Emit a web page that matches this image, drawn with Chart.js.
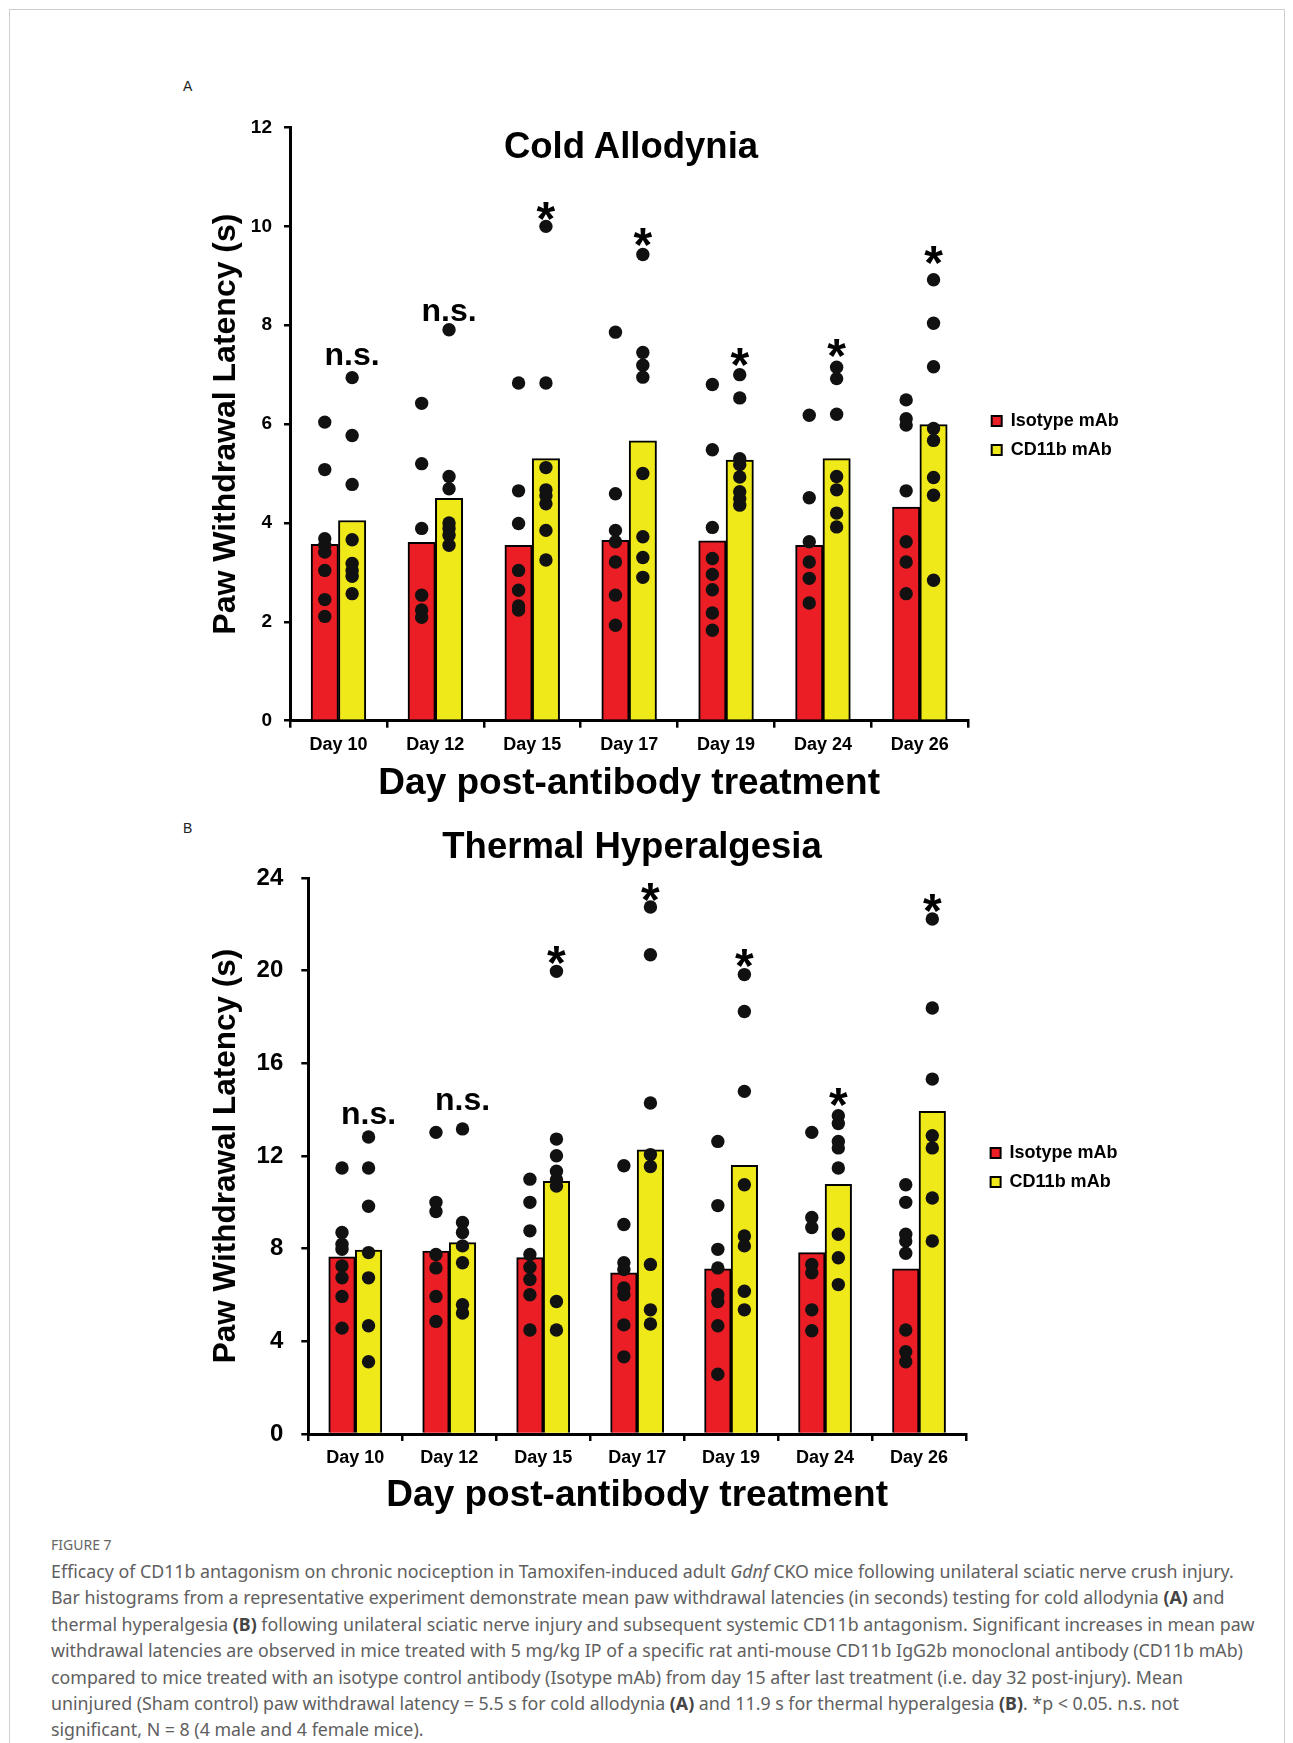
<!DOCTYPE html>
<html>
<head>
<meta charset="utf-8">
<title>Figure 7</title>
<script src="https://cdn.jsdelivr.net/npm/chart.js@4.4.1/dist/chart.umd.min.js"></script>
<style>
  html, body { margin: 0; padding: 0; background: #fff; }
  #page { position: relative; width: 1293px; height: 1743px; overflow: hidden; font-family: "Liberation Sans", Arial, sans-serif; }
  .frame { position: absolute; left: 9px; top: 9px; width: 1274px; height: 1800px; border: 1px solid #cfcfcf; }
  canvas { position: absolute; left: 0; }
  .plabel { position: absolute; font-size: 14px; line-height: 14px; color: #222; }
  .ptitle { position: absolute; width: 600px; text-align: center; font-weight: bold; font-size: 36.5px; line-height: 36.5px; color: #000; }
  .figno { position: absolute; left: 51px; top: 1536px; font-family: "Noto Sans", sans-serif; font-size: 14px; line-height: 18px; color: #666; }
  .caption { position: absolute; left: 51px; top: 1558px; width: 1230px; font-family: "Noto Sans", sans-serif; font-size: 17.8px; line-height: 26.4px; color: #606060; white-space: nowrap; }
  .caption b { color: #444; }
</style>
</head>
<body>
<div id="page">
  <div class="frame"></div>
  <div class="plabel" style="left:183px;top:79px">A</div>
  <canvas id="cold" width="1293" height="716" style="top:90px"></canvas>
  <div class="ptitle" style="left:331px;top:127.5px">Cold Allodynia</div>

  <div class="plabel" style="left:183px;top:821px">B</div>
  <canvas id="thermal" width="1293" height="688" style="top:830px"></canvas>
  <div class="ptitle" style="left:332px;top:828px">Thermal Hyperalgesia</div>

  <div class="figno">FIGURE 7</div>
  <div class="caption">
    Efficacy of CD11b antagonism on chronic nociception in Tamoxifen-induced adult <i>Gdnf</i> CKO mice following unilateral sciatic nerve crush injury.<br>
    Bar histograms from a representative experiment demonstrate mean paw withdrawal latencies (in seconds) testing for cold allodynia <b>(A)</b> and<br>
    thermal hyperalgesia <b>(B)</b> following unilateral sciatic nerve injury and subsequent systemic CD11b antagonism. Significant increases in mean paw<br>
    withdrawal latencies are observed in mice treated with 5 mg/kg IP of a specific rat anti-mouse CD11b IgG2b monoclonal antibody (CD11b mAb)<br>
    compared to mice treated with an isotype control antibody (Isotype mAb) from day 15 after last treatment (i.e. day 32 post-injury). Mean<br>
    uninjured (Sham control) paw withdrawal latency = 5.5 s for cold allodynia <b>(A)</b> and 11.9 s for thermal hyperalgesia <b>(B)</b>. *p &lt; 0.05. n.s. not<br>
    significant, N = 8 (4 male and 4 female mice).
  </div>
</div>

<script>
// Shared categories and series names
const categories = ['Day 10', 'Day 12', 'Day 15', 'Day 17', 'Day 19', 'Day 24', 'Day 26'];
const seriesNames = ['Isotype mAb', 'CD11b mAb'];

// Panel A: cold allodynia (s)
const coldYTicks = [0, 2, 4, 6, 8, 10, 12];
const coldIsotypeMean = [3.57, 3.61, 3.55, 3.65, 3.64, 3.55, 4.32];
const coldCd11bMean = [4.05, 4.50, 5.30, 5.66, 5.27, 5.30, 5.99];
const coldIsotypeMice = [
  [6.04, 5.08, 3.68, 3.55, 3.41, 3.04, 2.45, 2.11],
  [6.42, 5.20, 3.89, 2.54, 2.24, 2.09],
  [6.83, 4.65, 3.99, 3.04, 2.64, 2.32, 2.24],
  [7.86, 4.59, 3.85, 3.62, 3.21, 2.54, 1.93],
  [6.80, 5.48, 3.91, 3.28, 2.96, 2.65, 2.18, 1.83],
  [6.18, 4.51, 3.62, 3.21, 2.88, 2.38],
  [6.49, 6.11, 5.98, 4.65, 3.62, 3.21, 2.57]
];
const coldCd11bMice = [
  [6.94, 5.77, 4.78, 3.66, 3.18, 3.04, 2.92, 2.57],
  [7.91, 4.94, 4.69, 4.00, 3.89, 3.75, 3.55],
  [10.0, 6.83, 5.12, 4.67, 4.55, 4.39, 3.85, 3.25],
  [9.43, 7.45, 7.19, 6.95, 5.00, 3.72, 3.30, 2.90],
  [7.00, 6.53, 5.30, 5.18, 4.93, 4.63, 4.49, 4.36],
  [7.15, 6.92, 6.20, 4.94, 4.67, 4.20, 3.92],
  [8.92, 8.04, 7.16, 5.91, 5.67, 4.92, 4.56, 2.84]
];
const coldSigText = ['n.s.', 'n.s.', '*', '*', '*', '*', '*'];
const coldSigAt = [7.37, 8.26, 10.37, 9.85, 7.42, 7.61, 9.48];

// Panel B: thermal hyperalgesia (s)
const thermalYTicks = [0, 4, 8, 12, 16, 20, 24];
const thermalIsotypeMean = [7.65, 7.90, 7.61, 6.96, 7.13, 7.83, 7.13];
const thermalCd11bMean = [7.94, 8.26, 10.91, 12.27, 11.60, 10.78, 13.93];
const thermalIsotypeMice = [
  [11.48, 8.70, 8.19, 7.97, 7.25, 6.74, 5.94, 4.57],
  [13.02, 10.0, 9.60, 7.75, 7.17, 5.94, 4.86],
  [11.00, 10.0, 8.77, 7.75, 7.20, 6.67, 6.01, 4.49],
  [11.58, 9.04, 7.39, 7.10, 6.30, 6.01, 4.71, 3.33],
  [12.63, 9.86, 7.97, 7.17, 6.01, 5.72, 4.67, 2.58],
  [13.02, 9.35, 8.91, 7.32, 6.96, 5.36, 4.46],
  [10.76, 10.0, 8.62, 8.33, 7.80, 4.49, 3.55, 3.12]
];
const thermalCd11bMice = [
  [12.82, 11.48, 9.83, 7.83, 6.74, 4.67, 3.12],
  [13.17, 9.13, 8.70, 8.12, 7.39, 5.58, 5.22],
  [19.97, 12.73, 12.01, 11.34, 10.98, 10.70, 5.72, 4.49],
  [22.75, 20.69, 14.29, 12.06, 11.55, 7.32, 5.36, 4.75],
  [19.83, 18.24, 14.79, 10.76, 8.55, 8.12, 6.16, 5.36],
  [13.74, 13.40, 12.63, 12.35, 11.48, 8.62, 7.61, 6.45],
  [22.23, 18.39, 15.32, 12.88, 12.35, 10.19, 8.33]
];
const thermalSigText = ['n.s.', 'n.s.', '*', '*', '*', '*', '*'];
const thermalSigAt = [13.74, 14.33, 20.83, 23.54, 20.69, 14.69, 23.06];

const RED = '#EC1E25';
const YELLOW = '#F0E91A';
const FONT = '"Liberation Sans", Arial, sans-serif';
const CAT_PCT = 0.565;

Chart.defaults.font.family = FONT;
Chart.defaults.color = '#000';

// mice dots sit on the centre of their bar: each bar is CAT_PCT/2 of a category wide
function miceDots(groups, side) {
  const shift = side * CAT_PCT / 4;
  return groups.flatMap((vals, i) => vals.map(v => ({ x: i + shift, y: v })));
}

function makePanel(id, p) {
  // draws n.s. / * above the CD11b bars and nudges the legend
  const extras = {
    id: 'extras',
    afterLayout(chart) {
      const lg = chart.legend;
      lg.left += p.legendDx; lg.right += p.legendDx;
      lg.top += p.legendDy; lg.bottom += p.legendDy;
    },
    afterDatasetsDraw(chart) {
      const ctx = chart.ctx;
      const bars = chart.getDatasetMeta(3).data;
      const y = chart.scales.y;
      ctx.save();
      ctx.fillStyle = '#000';
      ctx.textAlign = 'center';
      ctx.textBaseline = 'alphabetic';
      p.sigText.forEach((t, i) => {
        const star = t === '*';
        const fs = star ? p.starSize : p.nsSize;
        ctx.font = 'bold ' + fs + 'px ' + FONT;
        ctx.fillText(t, bars[i].x, y.getPixelForValue(p.sigAt[i]) + fs * (star ? 0.57 : 0.26));
      });
      ctx.restore();
    }
  };

  const dotStyle = {
    type: 'scatter', xAxisID: 'xd', yAxisID: 'y', grouped: false,
    pointRadius: 6.7, pointHoverRadius: 6.7,
    pointBackgroundColor: '#111', pointBorderWidth: 0, order: 0
  };
  const barStyle = { borderColor: '#000', borderWidth: 2, barThickness: p.barW, order: 1 };

  new Chart(document.getElementById(id), {
    type: 'bar',
    data: {
      labels: categories,
      datasets: [
        { ...dotStyle, label: 'iso-mice', data: miceDots(p.isoMice, -1) },
        { ...dotStyle, label: 'cd-mice', data: miceDots(p.cdMice, 1) },
        { ...barStyle, label: seriesNames[0], data: p.isoMean, backgroundColor: RED },
        { ...barStyle, label: seriesNames[1], data: p.cdMean, backgroundColor: YELLOW }
      ]
    },
    options: {
      responsive: false,
      animation: false,
      devicePixelRatio: 1,
      events: [],
      layout: { padding: { top: p.padTop, right: p.padRight, bottom: 0, left: 0 } },
      scales: {
        x: {
          type: 'category',
          offset: true,
          grid: { offset: true, drawOnChartArea: false, drawTicks: true, tickLength: 7, color: '#000', lineWidth: 2.5 },
          border: { display: true, color: '#000', width: 3 },
          ticks: { color: '#000', padding: p.xTickPad, font: { size: 18, weight: 'bold' } },
          title: {
            display: true, text: 'Day post-antibody treatment', color: '#000',
            font: { size: 37, weight: 'bold', lineHeight: 1.2 }, padding: { top: 0, bottom: 0 }
          },
          afterFit: s => { s.height = p.xH; }
        },
        xd: {
          type: 'linear', display: false, offset: false, grid: { offset: false },
          min: -0.5, max: categories.length - 0.5
        },
        y: {
          min: p.yTicks[0],
          max: p.yTicks[p.yTicks.length - 1],
          grid: { drawOnChartArea: false, drawTicks: true, tickLength: p.yTickLen, color: '#000', lineWidth: 2.5 },
          border: { display: true, color: '#000', width: 3 },
          ticks: { stepSize: p.yTicks[1] - p.yTicks[0], color: '#000', padding: p.yTickPad, font: { size: p.yTickSize, weight: 'bold' } },
          title: {
            display: true, text: 'Paw Withdrawal Latency (s)', color: '#000',
            font: { size: p.yTitleSize, weight: 'bold', lineHeight: 1.2 },
            padding: { top: p.yTitlePad, bottom: 0 }
          },
          afterFit: s => { s.width = p.yW; }
        }
      },
      plugins: {
        tooltip: { enabled: false },
        legend: {
          position: 'right',
          fullSize: false,
          maxWidth: 140,
          labels: {
            filter: item => item.datasetIndex >= 2,
            boxWidth: 10, boxHeight: 10, padding: 11, color: '#000',
            font: { size: 18, weight: 'bold' }
          }
        }
      }
    },
    plugins: [extras]
  });
}

makePanel('cold', {
  yTicks: coldYTicks,
  isoMean: coldIsotypeMean, cdMean: coldCd11bMean,
  isoMice: coldIsotypeMice, cdMice: coldCd11bMice,
  sigText: coldSigText, sigAt: coldSigAt,
  padTop: 37.5, padRight: 184.7, xH: 85.3, yW: 290,
  barW: 678.3 / 7 * CAT_PCT / 2,
  xTickPad: 7, yTickLen: 6, yTickPad: 12, yTickSize: 19,
  yTitleSize: 32, yTitlePad: 206.8,
  nsSize: 32, starSize: 48,
  legendDx: 12.4, legendDy: 11.4
});

makePanel('thermal', {
  yTicks: thermalYTicks,
  isoMean: thermalIsotypeMean, cdMean: thermalCd11bMean,
  isoMice: thermalIsotypeMice, cdMice: thermalCd11bMice,
  sigText: thermalSigText, sigAt: thermalSigAt,
  padTop: 48, padRight: 187, xH: 84, yW: 308.3,
  barW: 657.7 / 7 * CAT_PCT / 2,
  xTickPad: 6, yTickLen: 7, yTickPad: 18, yTickSize: 24,
  yTitleSize: 31.5, yTitlePad: 207.1,
  nsSize: 32, starSize: 48,
  legendDx: 13.6, legendDy: 11.5
});
</script>
</body>
</html>
